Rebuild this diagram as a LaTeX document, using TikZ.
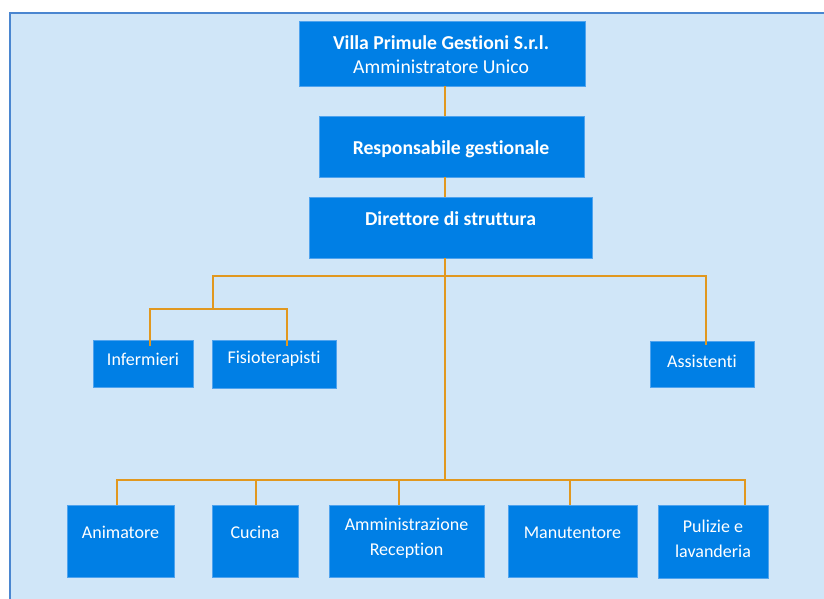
\documentclass[tikz,border=0pt]{standalone}
\usepackage{fontspec}
\setmainfont{Carlito}[Ligatures={NoCommon}]
\definecolor{bg}{HTML}{D0E6F8}
\definecolor{framec}{HTML}{4A86D0}
\definecolor{boxc}{HTML}{007FE5}
\definecolor{boxedge}{HTML}{4FA3EE}
\definecolor{linec}{HTML}{E1981F}
\begin{document}
\begin{tikzpicture}[x=1pt,y=-1pt,
  box/.style={draw=boxedge, line width=0.8pt, fill=boxc, inner sep=0pt, outer sep=0pt},
  txt/.style={text=white, font=\fontsize{18}{25}\selectfont, align=center, inner sep=0pt},
  bigtxt/.style={txt, font=\fontsize{19.7}{24}\selectfont},
  conn/.style={draw=linec, line width=2.4pt}]
\useasboundingbox (0,0) rectangle (824,598);
\fill[white] (0,0) rectangle (824,598);
\draw[framec, line width=2pt, fill=bg] (10,13) rectangle (850,620);
% boxes
\node[box, minimum width=286, minimum height=65] (top) at (442,53.5) {};
\node[box, minimum width=265, minimum height=61] (resp) at (451.5,146.5) {};
\node[box, minimum width=283, minimum height=61] (dir) at (450.5,227.5) {};
\node[box, minimum width=100, minimum height=47] (inf) at (143,363.5) {};
\node[box, minimum width=124, minimum height=48] (fis) at (274,364) {};
\node[box, minimum width=104, minimum height=46] (ass) at (702,364) {};
\node[box, minimum width=107, minimum height=72] (anim) at (120.5,541) {};
\node[box, minimum width=86, minimum height=72] (cuc) at (255,541) {};
\node[box, minimum width=155, minimum height=72] (amm) at (406.5,541) {};
\node[box, minimum width=129, minimum height=72] (man) at (572.5,541) {};
\node[box, minimum width=110, minimum height=73] (pul) at (713,541.5) {};
% texts
\node[bigtxt] (ttop) at (441,55) {\textbf{Villa Primule Gestioni S.r.l.}\\Amministratore Unico};
\node[bigtxt] (tresp) at (451,149) {\textbf{Responsabile gestionale}};
\node[bigtxt] (tdir) at (450.5,219) {\textbf{Direttore di struttura}};
\node[txt] (tinf) at (143,359) {Infermieri};
\node[txt] (tfis) at (274,359) {Fisioterapisti};
\node[txt] (tass) at (702,361) {Assistenti};
\node[txt] (tanim) at (120.5,532) {Animatore};
\node[txt] (tcuc) at (255,532) {Cucina};
\node[txt] (tamm) at (406.5,538.5) {Amministrazione\\Reception};
\node[txt] (tman) at (572.5,533) {Manutentore};
\node[txt] (tpul) at (713,538.5) {Pulizie e\\lavanderia};
% junctions
\coordinate (j1) at (445,276);
\coordinate (j2) at (445,480);
\coordinate (l1) at (213,276);
\coordinate (r1) at (706,276);
\coordinate (l2) at (213,309);
\coordinate (sa) at (150,309);
\coordinate (sb) at (287,309);
\coordinate (ba) at (117,480);
\coordinate (bb) at (256,480);
\coordinate (bc) at (399,480);
\coordinate (bd) at (570,480);
\coordinate (be) at (745,480);
% connectors
\draw[conn] (top.south -| j1) -- (resp.north -| j1);
\draw[conn] (resp.south -| j1) -- (dir.north -| j1);
\draw[conn] (dir.south -| j1) -- (j2);
\draw[conn] (l2) -- (l1) -- (r1) -- ([yshift=-4pt]ass.north -| r1);
\draw[conn] ([yshift=-6pt]inf.north -| sa) -- (sa) -- (sb) -- ([yshift=-6pt]fis.north -| sb);
\draw[conn] (anim.north -| ba) -- (ba) -- (be) -- (pul.north -| be);
\draw[conn] (bb) -- (cuc.north -| bb);
\draw[conn] (bc) -- (amm.north -| bc);
\draw[conn] (bd) -- (man.north -| bd);
\end{tikzpicture}
\end{document}
